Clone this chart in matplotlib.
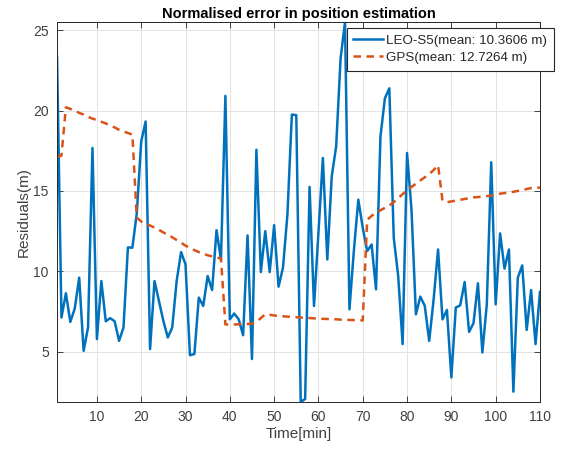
import matplotlib
matplotlib.use("Agg")
import matplotlib.pyplot as plt

plt.rcParams['font.family'] = ['Liberation Sans', 'DejaVu Sans']

# minutes 1..110
time_min = list(range(1, 111))

leo_s5 = [
    23.35, 7.13, 8.64, 6.86, 7.69, 9.61, 5.06, 6.51, 17.67, 5.79,
    9.40, 6.90, 7.09, 6.90, 5.68, 6.51, 11.49, 11.47, 13.60, 18.08,
    19.32, 5.17, 9.40, 8.16, 6.92, 5.89, 6.51, 9.40, 11.20, 10.43,
    4.79, 4.86, 8.37, 7.85, 9.71, 8.84, 12.56, 10.74, 20.91, 7.02,
    7.38, 7.02, 6.03, 12.23, 4.55, 17.56, 9.96, 12.50, 9.96, 12.87,
    9.05, 10.23, 13.53, 19.75, 19.71, 1.88, 2.07, 15.25, 7.85, 12.40,
    17.05, 10.74, 15.90, 17.77, 23.24, 25.50, 7.64, 11.30, 14.46, 12.71,
    11.26, 11.67, 8.88, 18.39, 20.76, 21.38, 12.09, 9.71, 5.48, 17.36,
    13.84, 7.33, 8.43, 7.85, 5.68, 8.26, 11.36, 7.02, 7.60, 3.41,
    7.75, 7.89, 9.34, 6.24, 6.78, 9.26, 4.96, 7.95, 16.78, 7.95,
    12.36, 10.17, 11.36, 2.52, 9.61, 10.37, 6.36, 8.84, 5.48, 8.72,
]

gps = [
    17.10, 17.20, 20.20, 20.10, 20.00, 19.85, 19.75, 19.60, 19.50, 19.40,
    19.30, 19.20, 19.05, 18.95, 18.80, 18.70, 18.60, 18.50, 13.35, 13.10,
    12.97, 12.85, 12.72, 12.58, 12.42, 12.27, 12.12, 11.95, 11.78, 11.60,
    11.45, 11.32, 11.20, 11.10, 11.00, 10.93, 10.86, 10.80, 6.70, 6.70,
    6.70, 6.71, 6.72, 6.73, 6.75, 6.85, 7.10, 7.33, 7.30, 7.26,
    7.23, 7.21, 7.19, 7.17, 7.15, 7.13, 7.11, 7.10, 7.08, 7.07,
    7.05, 7.04, 7.03, 7.02, 7.00, 6.99, 6.98, 6.97, 6.96, 6.95,
    13.20, 13.45, 13.65, 13.80, 13.95, 14.10, 14.30, 14.55, 14.80, 15.05,
    15.25, 15.45, 15.65, 15.85, 16.05, 16.30, 16.60, 14.40, 14.30, 14.35,
    14.40, 14.45, 14.50, 14.55, 14.60, 14.62, 14.65, 14.68, 14.72, 14.78,
    14.83, 14.87, 14.90, 14.95, 15.00, 15.05, 15.12, 15.18, 15.22, 15.20,
]

x_ticks = [10, 20, 30, 40, 50, 60, 70, 80, 90, 100, 110]
y_ticks = [5, 10, 15, 20, 25]

blue = '#0072BD'
orange = '#D95319'
dark = '#262626'
grey = '#404040'

fig = plt.figure(figsize=(5.72, 4.5), dpi=100)
ax = fig.add_axes([0.0997, 0.1067, 0.8443, 0.8443])

ax.plot(time_min, leo_s5, color=blue, lw=1.8, label='LEO-S5(mean: 10.3606 m)')
ax.plot(time_min, gps, color=orange, lw=1.8, ls=(0, (3, 2.2)),
        label='GPS(mean: 12.7264 m)')

ax.set_xlim(1, 110)
ax.set_ylim(min(leo_s5), max(leo_s5))
ax.set_xticks(x_ticks)
ax.set_yticks(y_ticks)
ax.grid(True, color='#e3e3e3', lw=0.7)
ax.set_axisbelow(True)
ax.tick_params(direction='in', top=True, right=True, length=4, width=0.6,
               colors=dark, labelcolor=grey, labelsize=10, pad=6)
for s in ax.spines.values():
    s.set_color(dark)
    s.set_linewidth(0.7)

ax.set_title('Normalised error in position estimation', fontsize=10.5,
             fontweight='bold', color='black', pad=3)
ax.set_xlabel('Time[min]', fontsize=11, color=grey, labelpad=2)
ax.set_ylabel('Residuals(m)', fontsize=11, color=grey, labelpad=2)

leg = ax.legend(loc='upper right', bbox_to_anchor=(0.968, 0.938),
                bbox_transform=fig.transFigure, fontsize=9.6, frameon=True,
                fancybox=False, edgecolor=dark, framealpha=1,
                handlelength=2.2, borderpad=0.5, labelspacing=0.35,
                handletextpad=0.25, borderaxespad=0)
leg.get_frame().set_linewidth(0.8)
for t in leg.get_texts():
    t.set_color(dark)

fig.savefig('out.png', dpi=100)
